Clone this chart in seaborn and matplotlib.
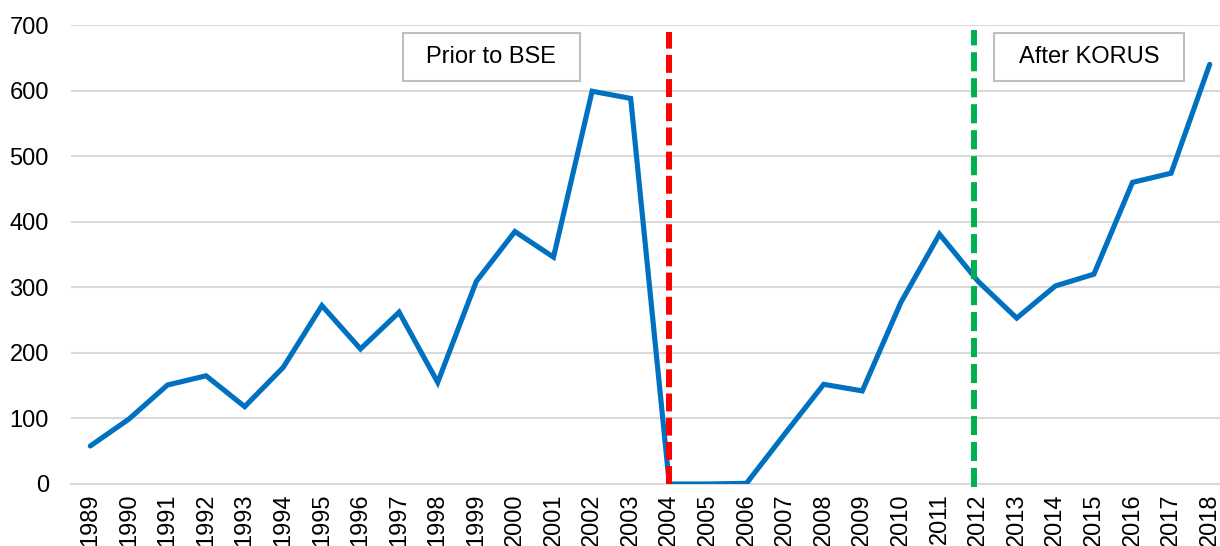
import matplotlib
matplotlib.use("Agg")
import matplotlib.pyplot as plt
from matplotlib.patches import Rectangle
import seaborn as sns
import pandas as pd

years = list(range(1989, 2019))
values = [58, 99, 151, 165, 118, 178, 272, 206, 262, 155,
          309, 385, 346, 599, 588, 0, 0, 1, 77, 152,
          142, 277, 381, 309, 253, 302, 320, 460, 474, 640]
bse_year = 2004
korus_year = 2011.9
bse_label = "Prior to BSE"
korus_label = "After KORUS"
y_ticks = [0, 100, 200, 300, 400, 500, 600, 700]

sns.set_theme(style="white")
plt.rcParams['font.family'] = ['Liberation Sans', 'DejaVu Sans']

W, H = 1220, 546
fig = plt.figure(figsize=(W / 100, H / 100), dpi=100)
ax = fig.add_axes([71 / W, 1 - 484 / H, 1158 / W, 459 / H])

df = pd.DataFrame({"year": years, "value": values})
sns.lineplot(data=df, x="year", y="value", ax=ax, color="#0070C0",
             linewidth=3.7, solid_joinstyle="miter", solid_capstyle="round",
             zorder=3)

ax.plot([bse_year, bse_year], [0, 690], color="#FF0000", linewidth=4.3,
        linestyle=(0, (3, 1.05)), dash_capstyle="butt", zorder=4)
ax.plot([korus_year, korus_year], [-5, 693], color="#00B050", linewidth=4.3,
        linestyle=(0, (3.2, 1.15)), dash_capstyle="butt", zorder=4,
        clip_on=False)

ax.set_xlim(1988.5, 2018.5)
ax.set_ylim(0, 700)
ax.set_yticks(y_ticks)
ax.set_xticks(years)
ax.set_xticklabels([str(y) for y in years], rotation=90, fontsize=17)
ax.tick_params(axis="y", labelsize=17, length=0, pad=16, labelcolor="black")
ax.tick_params(axis="x", length=0, pad=7, labelcolor="black")
ax.set_xlabel("")
ax.set_ylabel("")
ax.grid(axis="y", color="#D9D9D9", linewidth=1.5)
ax.grid(axis="x", visible=False)
for s in ["top", "right", "left"]:
    ax.spines[s].set_visible(False)
ax.spines["bottom"].set_color("#D9D9D9")
ax.spines["bottom"].set_linewidth(1.5)
ax.set_axisbelow(True)


def box(x0, x1, y0, y1, text):
    rect = Rectangle((x0 / W, 1 - y1 / H), (x1 - x0) / W, (y1 - y0) / H,
                     transform=fig.transFigure, facecolor="white",
                     edgecolor="#BFBFBF", linewidth=1.5, zorder=5)
    fig.patches.append(rect)
    fig.text((x0 + x1) / 2 / W, 1 - (y0 + y1) / 2 / H, text, ha="center",
             va="center", fontsize=17, color="black", zorder=6)


box(403, 580, 33, 81, bse_label)
box(994, 1184, 33, 81, korus_label)

fig.savefig("out.png", dpi=100)
